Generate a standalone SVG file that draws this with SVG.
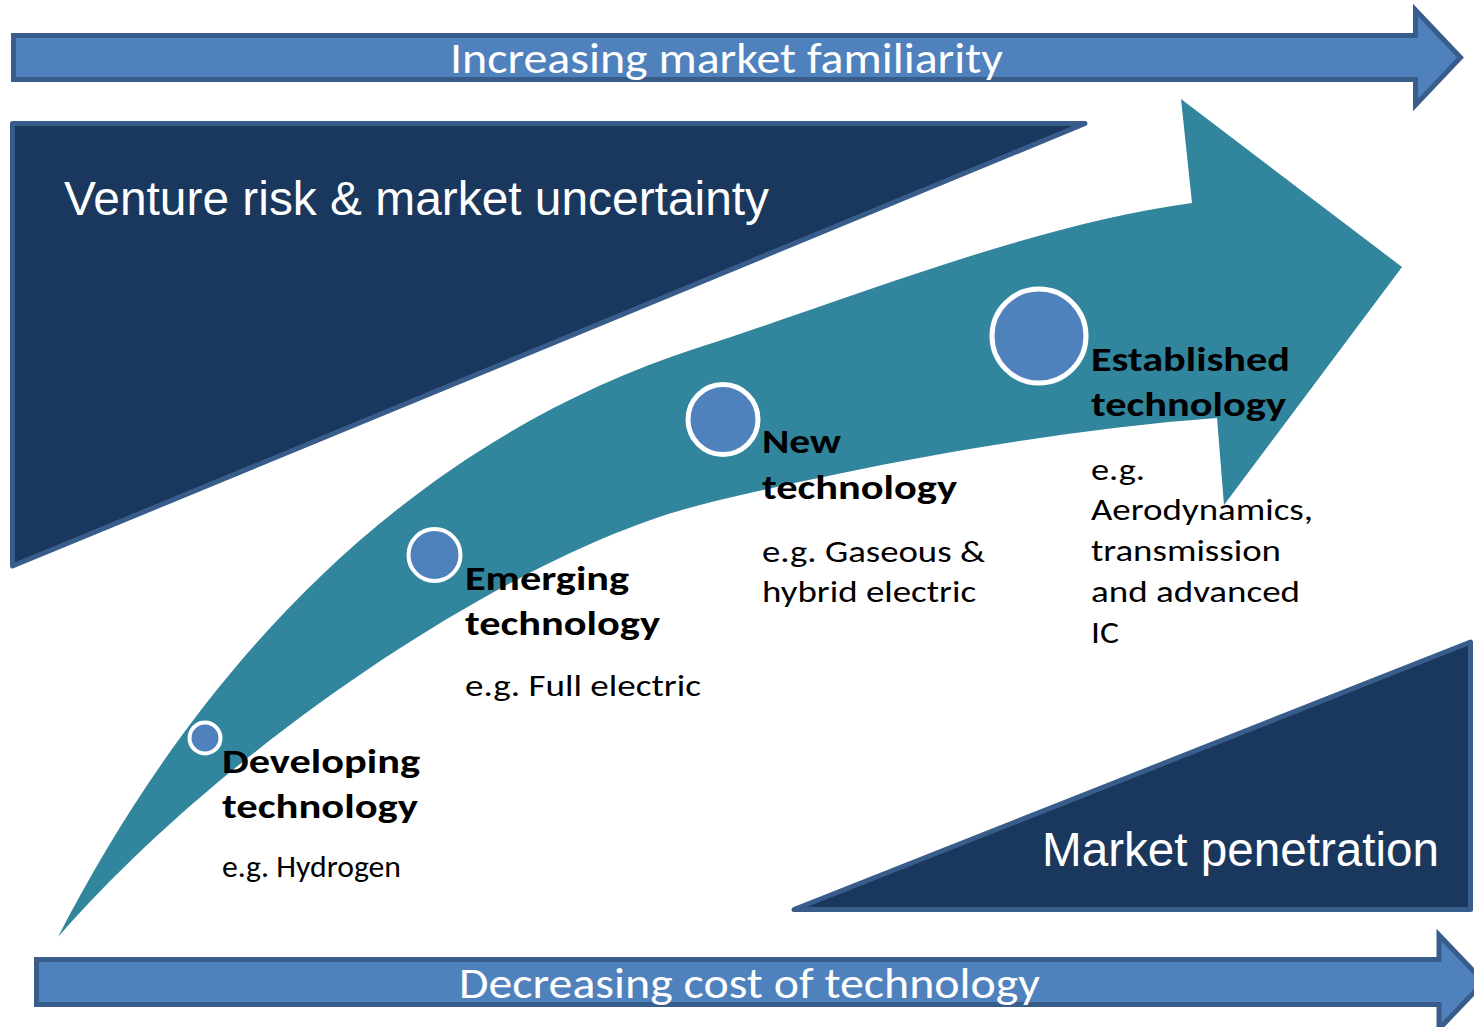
<svg xmlns="http://www.w3.org/2000/svg" width="1474" height="1027" viewBox="0 0 1474 1027">
  <style>
    .band{fill:#4F81BD;stroke:#385D8A;stroke-width:5;stroke-linejoin:miter}
    .tri{fill:#1A375E;stroke:#385D8A;stroke-width:5;stroke-linejoin:round}
    .teal{fill:#31859C;stroke:none}
    .dot{fill:#4F81BD;stroke:#FFFFFF}
    .bandtxt{font-family:Carlito,Lato,"Open Sans",sans-serif;font-size:44px;fill:#FFFFFF}
    .bigtxt{font-family:"Liberation Sans",Arial,sans-serif;font-size:48px;fill:#FFFFFF}
    .hd{font-family:Carlito,Lato,"Open Sans",sans-serif;font-size:35px;font-weight:700;fill:#000000}
    .ex{font-family:Carlito,Lato,"Open Sans",sans-serif;font-size:31px;fill:#000000}
  </style>

  <g id="top-arrow">
    <polygon class="band" points="13.5,35.5 1415.5,35.5 1415.5,10 1460.5,57.5 1415.5,105 1415.5,79.5 13.5,79.5"/>
    <text class="bandtxt" x="450" y="73" textLength="553" lengthAdjust="spacingAndGlyphs">Increasing market familiarity</text>
  </g>

  <g id="venture-risk">
    <polygon class="tri" points="12.5,123.5 1085,123.5 12.5,566"/>
    <text class="bigtxt" x="64" y="215" textLength="705" lengthAdjust="spacingAndGlyphs">Venture risk &amp; market uncertainty</text>
  </g>

  <g id="market-penetration">
    <polygon class="tri" points="794,909.5 1470.5,642 1470.5,909.5"/>
    <text class="bigtxt" x="1042" y="866" textLength="397" lengthAdjust="spacingAndGlyphs">Market penetration</text>
  </g>

  <g id="bottom-arrow">
    <polygon class="band" points="36.5,959.5 1439,959.5 1439,935 1484,982 1439,1029 1439,1004.5 36.5,1004.5"/>
    <text class="bandtxt" x="459" y="998" textLength="581" lengthAdjust="spacingAndGlyphs">Decreasing cost of technology</text>
  </g>

  <g id="connectors">
    <path id="progress-arrow" class="teal" d="M58,937 C180,700 380,450 700,347 C850,299 1030,225 1192,203 L1181,99 L1402,267 L1224,505 L1217,418 C1050,430 850,468 700,505 C520,550 230,740 58,937 Z"/>
  </g>

  <g id="developing">
    <circle class="dot" cx="205" cy="738" r="15.5" stroke-width="4"/>
    <text class="hd" x="222" y="773" textLength="198" lengthAdjust="spacingAndGlyphs">Developing</text>
    <text class="hd" x="222" y="818" textLength="196" lengthAdjust="spacingAndGlyphs">technology</text>
    <text class="ex" x="222" y="877" font-size="27" textLength="179" lengthAdjust="spacingAndGlyphs">e.g. Hydrogen</text>
  </g>

  <g id="emerging">
    <circle class="dot" cx="434.5" cy="555" r="26" stroke-width="4"/>
    <text class="hd" x="465" y="590" textLength="164" lengthAdjust="spacingAndGlyphs">Emerging</text>
    <text class="hd" x="465" y="635" textLength="195" lengthAdjust="spacingAndGlyphs">technology</text>
    <text class="ex" x="465" y="696" textLength="236" lengthAdjust="spacingAndGlyphs">e.g. Full electric</text>
  </g>

  <g id="new">
    <circle class="dot" cx="723" cy="419.5" r="35" stroke-width="5"/>
    <text class="hd" x="762" y="453" textLength="79" lengthAdjust="spacingAndGlyphs">New</text>
    <text class="hd" x="762" y="499" textLength="195" lengthAdjust="spacingAndGlyphs">technology</text>
    <text class="ex" x="762" y="562" textLength="223" lengthAdjust="spacingAndGlyphs">e.g. Gaseous &amp;</text>
    <text class="ex" x="762" y="602" textLength="214" lengthAdjust="spacingAndGlyphs">hybrid electric</text>
  </g>

  <g id="established">
    <circle class="dot" cx="1039" cy="336" r="47" stroke-width="5"/>
    <text class="hd" x="1091" y="371" textLength="199" lengthAdjust="spacingAndGlyphs">Established</text>
    <text class="hd" x="1091" y="416" textLength="195" lengthAdjust="spacingAndGlyphs">technology</text>
    <text class="ex" x="1091" y="480" textLength="54" lengthAdjust="spacingAndGlyphs">e.g.</text>
    <text class="ex" x="1091" y="520" textLength="222" lengthAdjust="spacingAndGlyphs">Aerodynamics,</text>
    <text class="ex" x="1091" y="561" textLength="190" lengthAdjust="spacingAndGlyphs">transmission</text>
    <text class="ex" x="1091" y="602" textLength="209" lengthAdjust="spacingAndGlyphs">and advanced</text>
    <text class="ex" x="1091" y="643" textLength="28" lengthAdjust="spacingAndGlyphs">IC</text>
  </g>
</svg>
